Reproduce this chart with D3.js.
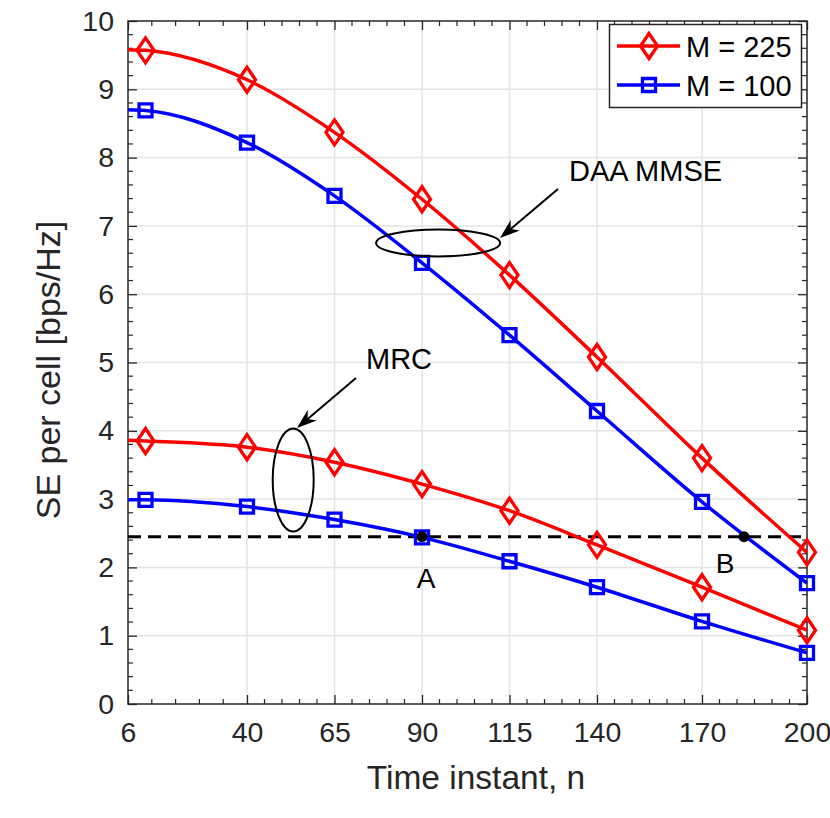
<!DOCTYPE html>
<html>
<head>
<meta charset="utf-8">
<script src="https://cdn.jsdelivr.net/npm/d3@7"></script>
<style>
  body { margin: 0; background: #fff; }
  svg { display: block; font-family: "Liberation Sans", Arial, Helvetica, sans-serif; }
</style>
</head>
<body>
<script>
// time instants (first point only carries the line to the axis edge)
var timeN = [6, 11, 40, 65, 90, 115, 140, 170, 200];
var xTicks = [6, 40, 65, 90, 115, 140, 170, 200];
var yTicks = [0, 1, 2, 3, 4, 5, 6, 7, 8, 9, 10];

var daa225 = [9.58, 9.57, 9.14, 8.37, 7.39, 6.28, 5.08, 3.60, 2.22];
var daa100 = [8.70, 8.69, 8.22, 7.44, 6.46, 5.40, 4.29, 2.96, 1.77];
var mrc225 = [3.86, 3.85, 3.76, 3.54, 3.22, 2.83, 2.33, 1.71, 1.08];
var mrc100 = [2.99, 2.99, 2.89, 2.70, 2.44, 2.09, 1.71, 1.21, 0.75];

var threshold = 2.45;
var pointA = 90, pointB = 182;

var W = 830, H = 818;
var pLeft = 128, pRight = 807, pTop = 21, pBottom = 704;

var svg = d3.select("body").append("svg")
    .attr("width", W)
    .attr("height", H);

var x = d3.scaleLinear().domain([6, 200]).range([pLeft, pRight]);
var y = d3.scaleLinear().domain([0, 10]).range([pBottom, pTop]);

var axisCol = "#262626";
var gridCol = "#e3e3e3";

// grid
svg.append("g").selectAll("line")
    .data(xTicks.slice(1, -1))
    .enter().append("line")
    .attr("x1", function(d) { return x(d); })
    .attr("x2", function(d) { return x(d); })
    .attr("y1", pTop).attr("y2", pBottom)
    .attr("stroke", gridCol).attr("stroke-width", 1.5);

svg.append("g").selectAll("line")
    .data(yTicks.slice(1, -1))
    .enter().append("line")
    .attr("y1", function(d) { return y(d); })
    .attr("y2", function(d) { return y(d); })
    .attr("x1", pLeft).attr("x2", pRight)
    .attr("stroke", gridCol).attr("stroke-width", 1.5);

// minor ticks: 5 per major interval on x, 0.2 on y
var xMinor = [];
for (var i = 0; i < xTicks.length - 1; i++) {
    var a = xTicks[i], b = xTicks[i + 1];
    var parts = (b - a) % 5 === 0 ? (b - a) / 5 : 5;
    for (var k = 1; k < parts; k++) xMinor.push(a + (b - a) * k / parts);
}
var yMinor = [];
for (var v = 0; v < 10; v += 1) {
    for (var k = 1; k < 5; k++) yMinor.push(v + k * 0.2);
}

// axes with inward ticks on all four sides
var xBottom = d3.axisBottom(x).tickValues(xTicks).tickSize(-9).tickPadding(18).tickFormat(d3.format("d"));
var xTop = d3.axisTop(x).tickValues(xTicks).tickSize(-9).tickFormat("");
var yLeft = d3.axisLeft(y).tickValues(yTicks).tickSize(-9).tickPadding(14).tickFormat(d3.format("d"));
var yRight = d3.axisRight(y).tickValues(yTicks).tickSize(-9).tickFormat("");

function styleAxis(g) {
    g.attr("font-size", 28.5).attr("font-family", "Liberation Sans, Arial, sans-serif");
    g.select(".domain").remove();
    g.selectAll("line").attr("stroke", axisCol).attr("stroke-width", 1.3);
    g.selectAll("text").attr("fill", axisCol);
}

svg.append("g").attr("transform", "translate(0," + pBottom + ")").call(xBottom).call(styleAxis);
svg.append("g").attr("transform", "translate(0," + pTop + ")").call(xTop).call(styleAxis);
svg.append("g").attr("transform", "translate(" + pLeft + ",0)").call(yLeft).call(styleAxis);
svg.append("g").attr("transform", "translate(" + pRight + ",0)").call(yRight).call(styleAxis);

var minorG = svg.append("g").attr("stroke", axisCol).attr("stroke-width", 1.2);
xMinor.forEach(function(d) {
    minorG.append("line").attr("x1", x(d)).attr("x2", x(d)).attr("y1", pBottom).attr("y2", pBottom - 5);
    minorG.append("line").attr("x1", x(d)).attr("x2", x(d)).attr("y1", pTop).attr("y2", pTop + 5);
});
yMinor.forEach(function(d) {
    minorG.append("line").attr("y1", y(d)).attr("y2", y(d)).attr("x1", pLeft).attr("x2", pLeft + 5);
    minorG.append("line").attr("y1", y(d)).attr("y2", y(d)).attr("x1", pRight).attr("x2", pRight - 5);
});

// box
svg.append("rect")
    .attr("x", pLeft).attr("y", pTop)
    .attr("width", pRight - pLeft).attr("height", pBottom - pTop)
    .attr("fill", "none").attr("stroke", axisCol).attr("stroke-width", 1.5);

// threshold dashed line
svg.append("line")
    .attr("x1", x(6)).attr("x2", x(200))
    .attr("y1", y(threshold)).attr("y2", y(threshold))
    .attr("stroke", "#000").attr("stroke-width", 3)
    .attr("stroke-dasharray", "13,7");

// curves
var line = d3.line()
    .x(function(d, i) { return x(timeN[i]); })
    .y(function(d) { return y(d); })
    .curve(d3.curveMonotoneX);

var series = [
    { vals: daa225, color: "#ff0000", marker: "diamond" },
    { vals: daa100, color: "#0000ff", marker: "square" },
    { vals: mrc225, color: "#ff0000", marker: "diamond" },
    { vals: mrc100, color: "#0000ff", marker: "square" }
];

function markerPath(type) {
    if (type == "diamond") return "M0,-12.5L8.5,0L0,12.5L-8.5,0Z";
    return "M-6.5,-6.5L6.5,-6.5L6.5,6.5L-6.5,6.5Z";
}

series.forEach(function(s) {
    svg.append("path")
        .attr("d", line(s.vals))
        .attr("fill", "none")
        .attr("stroke", s.color)
        .attr("stroke-width", 3.5);
});

series.forEach(function(s) {
    svg.append("g").selectAll("path")
        .data(s.vals.slice(1))
        .enter().append("path")
        .attr("d", markerPath(s.marker))
        .attr("transform", function(d, i) {
            return "translate(" + x(timeN[i + 1]) + "," + y(d) + ")";
        })
        .attr("fill", "none")
        .attr("stroke", s.color)
        .attr("stroke-width", 3.3);
});

// points A, B
[pointA, pointB].forEach(function(p) {
    svg.append("circle")
        .attr("cx", x(p)).attr("cy", y(threshold)).attr("r", 5.5)
        .attr("fill", "#000");
});
svg.append("text").attr("x", x(pointA) + 4).attr("y", y(threshold) + 51)
    .attr("text-anchor", "middle").attr("font-size", 28).text("A");
svg.append("text").attr("x", x(pointB) - 19).attr("y", y(threshold) + 36)
    .attr("text-anchor", "middle").attr("font-size", 28).text("B");

// ellipses and arrows
function arrow(x1, y1, x2, y2) {
    var ang = Math.atan2(y2 - y1, x2 - x1);
    var len = 20, wid = 7;
    var bx = x2 - len * Math.cos(ang), by = y2 - len * Math.sin(ang);
    var nx = -Math.sin(ang), ny = Math.cos(ang);
    var mx = x2 - len * 0.7 * Math.cos(ang), my = y2 - len * 0.7 * Math.sin(ang);
    svg.append("line")
        .attr("x1", x1).attr("y1", y1).attr("x2", mx).attr("y2", my)
        .attr("stroke", "#000").attr("stroke-width", 2);
    svg.append("path")
        .attr("d", "M" + x2 + "," + y2 +
            "L" + (bx + nx * wid) + "," + (by + ny * wid) +
            "L" + mx + "," + my +
            "L" + (bx - nx * wid) + "," + (by - ny * wid) + "Z")
        .attr("fill", "#000");
}

svg.append("ellipse")
    .attr("cx", x(94.6)).attr("cy", y(6.75))
    .attr("rx", 62).attr("ry", 13.5)
    .attr("fill", "none").attr("stroke", "#000").attr("stroke-width", 2);
arrow(558, 189, 500, 238);
svg.append("text").attr("x", 569).attr("y", 181)
    .attr("font-size", 29).text("DAA MMSE");

svg.append("ellipse")
    .attr("cx", x(53.2)).attr("cy", y(3.28))
    .attr("rx", 20.5).attr("ry", 51.5)
    .attr("fill", "none").attr("stroke", "#000").attr("stroke-width", 2);
arrow(356, 378, 297, 428);
svg.append("text").attr("x", 366).attr("y", 369)
    .attr("font-size", 29).text("MRC");

// axis labels
svg.append("text")
    .attr("x", 476).attr("y", 789)
    .attr("text-anchor", "middle").attr("font-size", 33.5).attr("fill", axisCol)
    .text("Time instant, n");

svg.append("text")
    .attr("transform", "translate(60,370) rotate(-90)")
    .attr("text-anchor", "middle").attr("font-size", 34).attr("fill", axisCol)
    .text("SE per cell [bps/Hz]");

// legend
var lg = svg.append("g");
lg.append("rect")
    .attr("x", 609.5).attr("y", 24.5).attr("width", 192).attr("height", 83)
    .attr("fill", "#fff").attr("stroke", axisCol).attr("stroke-width", 1.5);
var legendItems = [
    { label: "M = 225", color: "#ff0000", marker: "diamond", cy: 46 },
    { label: "M = 100", color: "#0000ff", marker: "square", cy: 85 }
];
legendItems.forEach(function(it) {
    lg.append("line").attr("x1", 617).attr("x2", 680)
        .attr("y1", it.cy).attr("y2", it.cy)
        .attr("stroke", it.color).attr("stroke-width", 3.5);
    lg.append("path").attr("d", markerPath(it.marker))
        .attr("transform", "translate(649," + it.cy + ")")
        .attr("fill", "none").attr("stroke", it.color).attr("stroke-width", 3.3);
    lg.append("text").attr("x", 686).attr("y", it.cy + 11)
        .attr("font-size", 29).attr("fill", "#000").text(it.label);
});
</script>
</body>
</html>
